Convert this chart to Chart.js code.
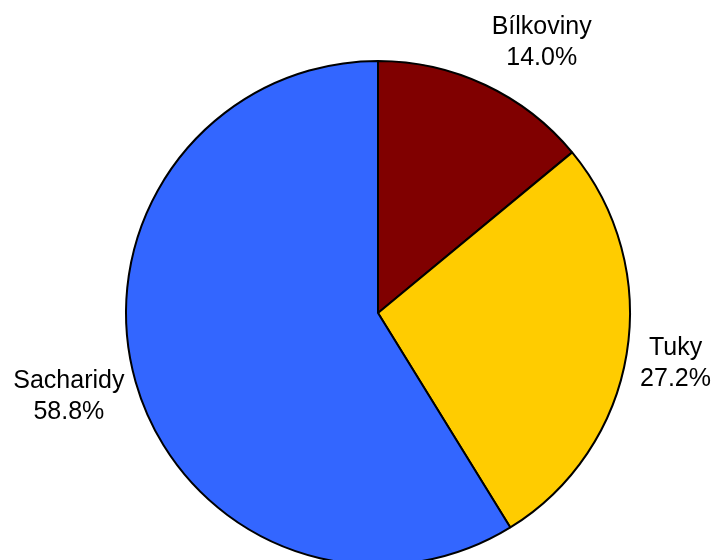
<!DOCTYPE html>
<html>
<head>
<meta charset="utf-8">
<script src="https://cdn.jsdelivr.net/npm/chart.js@4"></script>
<style>
  html, body { margin: 0; padding: 0; background: #fff; overflow: hidden; }
  #wrap { width: 716px; height: 640px; }
</style>
</head>
<body>
<div id="wrap"><canvas id="pieChart" width="716" height="640"></canvas></div>
<script>
const labels = ['Bílkoviny', 'Tuky', 'Sacharidy'];
const shares = [14.0, 27.2, 58.8];
const sliceColors = ['#800000', '#FFCC00', '#3366FF'];

const labelFont = '25px "Liberation Sans", Arial, sans-serif';
const lineHeight = 31;

// writes "name / percent" just outside each slice
const outsideLabels = {
  id: 'outsideLabels',
  afterDatasetsDraw(chart) {
    const c = chart.ctx;
    const meta = chart.getDatasetMeta(0);
    c.save();
    c.font = labelFont;
    c.fillStyle = '#000';
    c.textBaseline = 'middle';
    meta.data.forEach((arc, i) => {
      const { x, y, startAngle, endAngle, outerRadius } = arc.getProps(['x', 'y', 'startAngle', 'endAngle', 'outerRadius'], true);
      const mid = (startAngle + endAngle) / 2;
      const r = outerRadius * 1.05;
      const ax = x + Math.cos(mid) * r;
      const ay = y + Math.sin(mid) * r;
      const lines = [labels[i], shares[i].toFixed(1) + '%'];
      const w = Math.max(...lines.map((t) => c.measureText(t).width));
      const h = lines.length * lineHeight;
      const left = Math.cos(mid) >= 0 ? ax + 1 : ax - w + 1;
      const cyBlock = ay + (h / 2) * Math.sin(mid) * 1.15 + 1.5;
      c.textAlign = 'center';
      lines.forEach((t, k) => {
        c.fillText(t, left + w / 2, cyBlock - h / 2 + lineHeight * (k + 0.5));
      });
    });
    c.restore();
  },
};

new Chart(document.getElementById('pieChart'), {
  type: 'pie',
  data: {
    labels,
    datasets: [{
      data: shares,
      backgroundColor: sliceColors,
      borderColor: '#000',
      borderWidth: 2,
      borderAlign: 'center',
    }],
  },
  options: {
    responsive: false,
    animation: false,
    layout: { padding: { top: 60, left: 125, right: 85, bottom: 74 } },
    plugins: {
      legend: { display: false },
      tooltip: { enabled: false },
    },
  },
  plugins: [outsideLabels],
});
</script>
</body>
</html>
